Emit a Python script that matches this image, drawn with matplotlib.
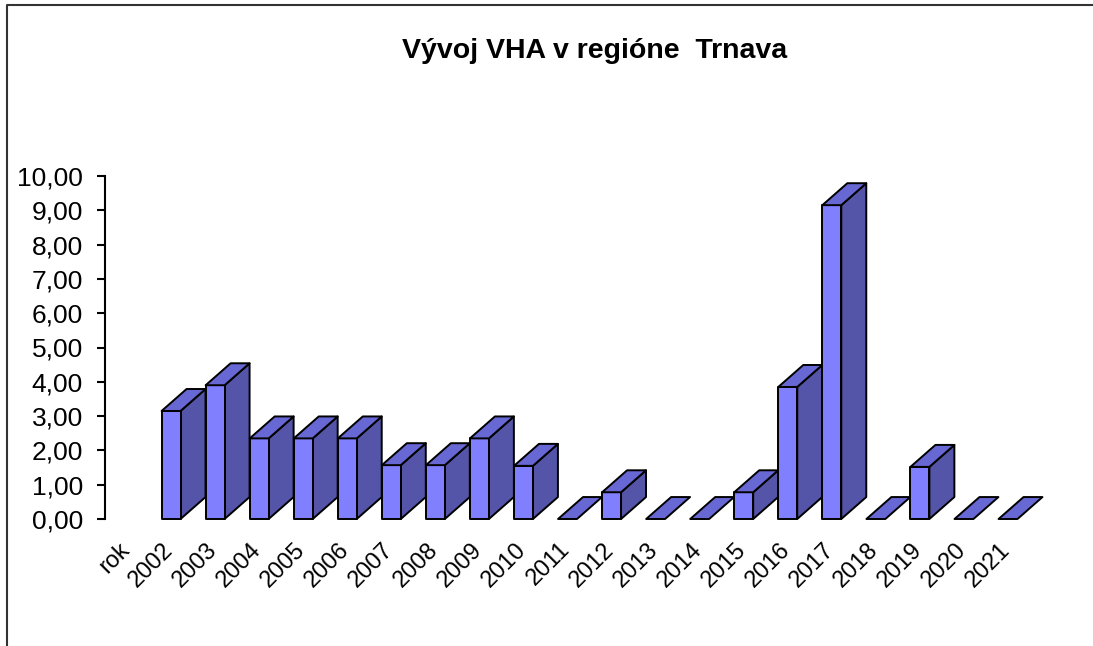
import matplotlib
matplotlib.use("Agg")

import matplotlib.pyplot as plt
from matplotlib.patches import Polygon
from matplotlib.lines import Line2D

# Data (first category "rok" has no value)
categories = ["rok", "2002", "2003", "2004", "2005", "2006", "2007", "2008",
              "2009", "2010", "2011", "2012", "2013", "2014", "2015", "2016",
              "2017", "2018", "2019", "2020", "2021"]
values = [None, 3.15, 3.90, 2.35, 2.35, 2.35, 1.57, 1.57, 2.35, 1.55, 0.0,
          0.78, 0.0, 0.0, 0.78, 3.85, 9.15, 0.0, 1.52, 0.0, 0.0]

FRONT = "#8080FF"
SIDE = "#5454A8"
TOP = "#6868D4"

plt.rcParams["font.family"] = ["Liberation Sans", "DejaVu Sans"]

W, H = 1093, 646
fig = plt.figure(figsize=(W / 100, H / 100), dpi=100)

# axes placed so that the y axis sits where the reference has it
ax_left, ax_bottom, ax_top = 105, 519, 176
ax = fig.add_axes([ax_left / W, 1 - ax_bottom / H,
                   (21.5 * 44.05) / W, (ax_bottom - ax_top) / H])
ax.set_xlim(-0.5, 21.0)
ax.set_ylim(0, 10)

half_w = 0.215   # half width of the front face (category units)
dx, dy = 0.567, 0.64   # 3D depth offset (category units, value units)

for i, v in enumerate(values):
    if v is None:
        continue
    x0, x1 = i - half_w, i + half_w
    z = 10 + i
    kw = dict(edgecolor="black", linewidth=1.4, joinstyle="round",
              clip_on=False, zorder=z)
    if v > 0:
        # side face
        ax.add_patch(Polygon([(x1, 0), (x1 + dx, dy), (x1 + dx, v + dy), (x1, v)],
                             facecolor=SIDE, **kw))
        # front face
        ax.add_patch(Polygon([(x0, 0), (x1, 0), (x1, v), (x0, v)],
                             facecolor=FRONT, **kw))
    # top face (the only face for zero-height bars)
    ax.add_patch(Polygon([(x0, v), (x1, v), (x1 + dx, v + dy), (x0 + dx, v + dy)],
                         facecolor=TOP, **kw))

# y axis
ax.set_yticks(range(0, 11))
ax.set_yticklabels([f"{t},00" for t in range(0, 11)], fontsize=19)
ax.tick_params(axis="y", direction="out", length=6, width=1.5, pad=10)
ax.spines["left"].set_linewidth(1.5)
for side in ("top", "right", "bottom"):
    ax.spines[side].set_visible(False)

# x category labels (anchored slightly left of each category centre)
ax.set_xticks([i - 0.2 for i in range(len(categories))])
ax.set_xticklabels(categories, rotation=45, ha="right", va="top",
                   rotation_mode="anchor", fontsize=17)
ax.tick_params(axis="x", length=0, pad=14)
ax.patch.set_alpha(0)

fig.text(595 / W, 1 - 51 / H, "Vývoj VHA v regióne  Trnava",
         ha="center", va="center", fontsize=20.5, fontweight="bold")

# outer frame (top and left edges only, as in the reference)
fig.add_artist(Line2D([7 / W, 7 / W, 1.0], [0.0, 1 - 5 / H, 1 - 5 / H],
                      transform=fig.transFigure, color="#333333", linewidth=1.5))

fig.savefig("out.png", dpi=100)
